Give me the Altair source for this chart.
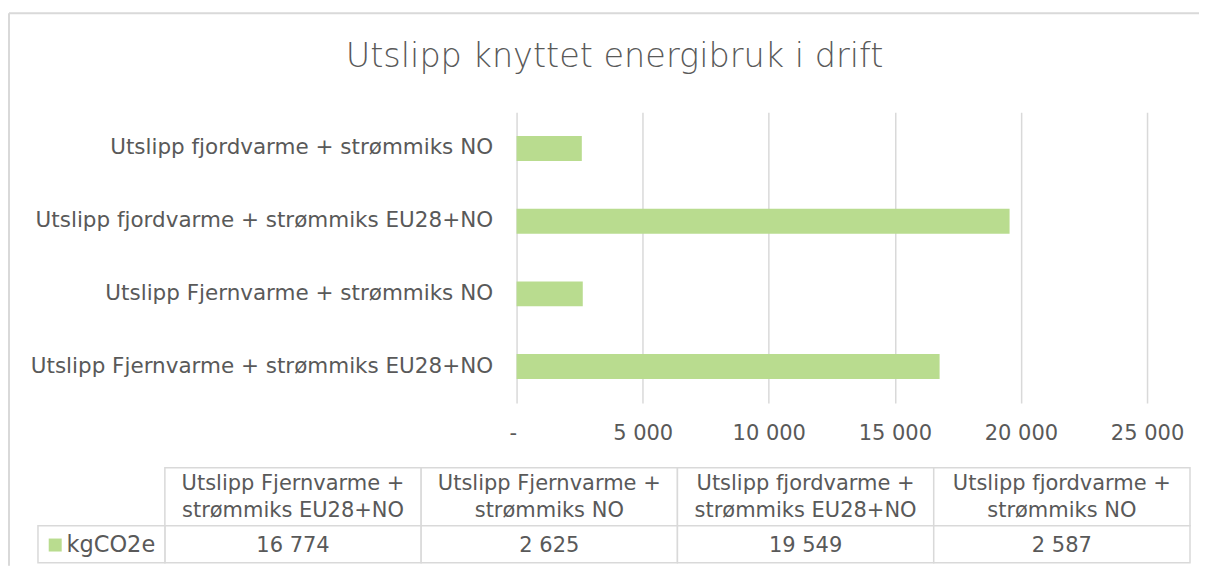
import altair as alt
import pandas as pd

# ---------------- data ----------------
title_text = "Utslipp knyttet energibruk i drift"
categories = [
    "Utslipp Fjernvarme + strømmiks EU28+NO",
    "Utslipp Fjernvarme + strømmiks NO",
    "Utslipp fjordvarme + strømmiks EU28+NO",
    "Utslipp fjordvarme + strømmiks NO",
]
values = [16774, 2625, 19549, 2587]
series_name = "kgCO2e"
x_ticks = [0, 5000, 10000, 15000, 20000, 25000]

# ---------------- style ----------------
FONT = "DejaVu Sans"
TEXT = "#595959"
GRID = "#d9d9d9"
BAR = "#b9dc8f"

df = pd.DataFrame({"category": categories, "value": values, "series": series_name})
df["header"] = [c.replace(" + ", " +\n") for c in categories]
bar_order = categories[::-1]

num_expr = "replace(format(datum.value, ','), ',', ' ')"

# outer frame (left and top lines)
one = pd.DataFrame({"k": [0]})
left_line = alt.Chart(one).mark_rule(color=GRID, strokeWidth=2).encode(
    x=alt.value(-508), y=alt.value(-99), y2=alt.value(454)
)
top_line = alt.Chart(one).mark_rule(color=GRID, strokeWidth=2).encode(
    x=alt.value(-508), x2=alt.value(683), y=alt.value(-99)
)

title = alt.Chart(pd.DataFrame({"t": [title_text]})).mark_text(
    font=FONT, fontSize=33.5, fontWeight=300, color=TEXT, align="center", baseline="alphabetic"
).encode(text="t:N", x=alt.value(98), y=alt.value(-45))

bars = alt.Chart(df).mark_bar(size=25).encode(
    x=alt.X(
        "value:Q",
        scale=alt.Scale(domain=[0, 25000], nice=False),
        axis=alt.Axis(
            values=x_ticks, title=None, grid=True, gridColor=GRID, gridWidth=1.5,
            domain=False, ticks=False, labelPadding=20, labelFont=FONT,
            labelFontSize=21, labelColor=TEXT, labelFlush=False,
            labelAlign={"condition": {"test": "datum.value == 0", "value": "right"}, "value": "center"},
            labelExpr="datum.value == 0 ? '-' : " + num_expr,
        ),
    ),
    y=alt.Y(
        "category:N", sort=bar_order,
        scale=alt.Scale(paddingInner=0, paddingOuter=0),
        axis=alt.Axis(
            title=None, domain=False, ticks=False, labelPadding=24, labelFont=FONT,
            labelFontSize=21.5, labelColor=TEXT, labelLimit=700,
        ),
    ),
    color=alt.Color(
        "series:N",
        scale=alt.Scale(range=[BAR]),
        legend=alt.Legend(
            orient="none", legendX=-473, legendY=422, title=None,
            symbolType="square", symbolSize=169, symbolStrokeWidth=0,
            labelFont=FONT, labelFontSize=22.5, labelColor=TEXT, labelOffset=0, padding=0,
        ),
    ),
)

tx = alt.X(
    "category:N", sort=categories,
    scale=alt.Scale(range=[-352, 674], paddingInner=0, paddingOuter=0),
    axis=None,
)

header_cells = alt.Chart(df).mark_rect(fill="white", stroke=GRID, strokeWidth=1.5).encode(
    x=tx, y=alt.value(356), y2=alt.value(414)
)
data_cells = alt.Chart(df).mark_rect(fill="white", stroke=GRID, strokeWidth=1.5).encode(
    x=tx, y=alt.value(414), y2=alt.value(451)
)
legend_cell = alt.Chart(one).mark_rect(fill="white", stroke=GRID, strokeWidth=1.5).encode(
    x=alt.value(-479), x2=alt.value(-352), y=alt.value(414), y2=alt.value(451)
)
header_text = alt.Chart(df).mark_text(
    font=FONT, fontSize=21, color=TEXT, lineBreak="\n", lineHeight=27, baseline="middle"
).encode(x=tx, y=alt.value(372), text="header:N")
data_text = alt.Chart(df).transform_calculate(
    label=num_expr
).mark_text(font=FONT, fontSize=21, color=TEXT, baseline="middle").encode(
    x=tx, y=alt.value(434), text="label:N"
)

chart = alt.layer(
    left_line, top_line, title,
    header_cells, data_cells, legend_cell, header_text, data_text,
    bars,
).resolve_scale(
    x="independent", y="independent"
).properties(
    width=631, height=291,
    padding={"left": 0, "top": 4, "right": 0, "bottom": 0},
).configure_view(strokeWidth=0)

chart.save("out.html", embed_options={"renderer": "svg", "actions": False})
